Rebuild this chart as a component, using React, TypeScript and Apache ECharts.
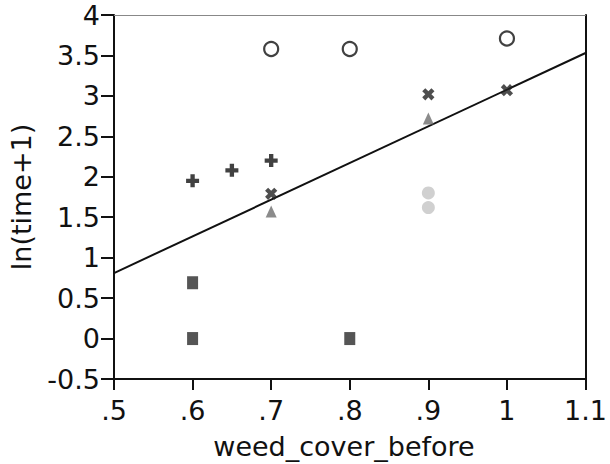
import React, { useEffect, useRef } from "react";
import * as echarts from "echarts";

const xTicks = [0.5, 0.6, 0.7, 0.8, 0.9, 1.0, 1.1];
const yTicks = [-0.5, 0, 0.5, 1, 1.5, 2, 2.5, 3, 3.5, 4];
const xName = "weed_cover_before";
const yName = "ln(time+1)";

const openCircles: number[][] = [[0.7, 3.58], [0.8, 3.58], [1.0, 3.71]];
const plusPoints: number[][] = [[0.6, 1.95], [0.65, 2.08], [0.7, 2.2]];
const crossPoints: number[][] = [[0.7, 1.79], [0.9, 3.02], [1.0, 3.07]];
const trianglePoints: number[][] = [[0.7, 1.57], [0.9, 2.72]];
const grayDots: number[][] = [[0.9, 1.8], [0.9, 1.62]];
const squarePoints: number[][] = [[0.6, 0.69], [0.6, 0], [0.8, 0]];
const fitX = [0.5, 1.1];
const fitY = [0.81, 3.53];

const PLUS = "path://M4,0 H8 V4 H12 V8 H8 V12 H4 V8 H0 V4 H4 Z";
const FONT = "DejaVu Sans";

function fmtX(v: number) {
  const s = String(Math.round(v * 10) / 10);
  return s.startsWith("0.") ? s.slice(1) : s;
}

export default function App() {
  const ref = useRef<HTMLDivElement>(null);
  useEffect(() => {
    if (!ref.current) return;
    const chart = echarts.init(ref.current, undefined, { renderer: "svg" });
    const labelStyle = { color: "#111", fontSize: 27, fontFamily: FONT };
    chart.setOption({
      animation: false,
      backgroundColor: "#fff",
      grid: { left: 112, right: 18, top: 15, bottom: 85, containLabel: false },
      xAxis: [
        {
          type: "value",
          min: xTicks[0],
          max: xTicks[xTicks.length - 1],
          interval: 0.1,
          axisLine: { show: true, onZero: false, lineStyle: { color: "#111", width: 2 } },
          axisTick: { show: true, inside: false, length: 11, lineStyle: { color: "#111", width: 2 } },
          axisLabel: { ...labelStyle, margin: 18, formatter: (v: number) => fmtX(v) },
          splitLine: { show: false },
        },
        {
          type: "value",
          position: "top",
          min: xTicks[0],
          max: xTicks[xTicks.length - 1],
          axisLine: { show: true, onZero: false, lineStyle: { color: "#888", width: 1 } },
          axisTick: { show: false },
          axisLabel: { show: false },
          splitLine: { show: false },
        },
      ],
      yAxis: [
        {
          type: "value",
          min: yTicks[0],
          max: yTicks[yTicks.length - 1],
          interval: 0.5,
          name: yName,
          nameLocation: "middle",
          nameGap: 79,
          nameTextStyle: { ...labelStyle },
          axisLine: { show: true, onZero: false, lineStyle: { color: "#111", width: 2 } },
          axisTick: { show: true, inside: false, length: 13, lineStyle: { color: "#111", width: 2 } },
          axisLabel: { ...labelStyle, margin: 14, formatter: (v: number) => String(v) },
          splitLine: { show: false },
        },
        {
          type: "value",
          position: "right",
          min: yTicks[0],
          max: yTicks[yTicks.length - 1],
          axisLine: { show: true, onZero: false, lineStyle: { color: "#111", width: 2 } },
          axisTick: { show: false },
          axisLabel: { show: false },
          splitLine: { show: false },
        },
      ],
      graphic: [
        {
          type: "text",
          x: 344,
          y: 446,
          style: {
            text: xName,
            fill: "#111",
            fontSize: 27,
            fontFamily: FONT,
            textAlign: "center",
            textVerticalAlign: "middle",
          },
        },
      ],
      series: [
        {
          type: "line",
          data: fitX.map((x, i) => [x, fitY[i]]),
          showSymbol: false,
          lineStyle: { color: "#111", width: 2 },
          z: 1,
        },
        {
          type: "scatter",
          data: openCircles,
          symbol: "circle",
          symbolSize: 14,
          itemStyle: { color: "#fff", borderColor: "#111", borderWidth: 2.2 },
          z: 3,
        },
        {
          type: "scatter",
          data: plusPoints,
          symbol: PLUS,
          symbolSize: 13,
          itemStyle: { color: "#111" },
          z: 3,
        },
        {
          type: "scatter",
          data: crossPoints,
          symbol: PLUS,
          symbolSize: 13,
          symbolRotate: 45,
          itemStyle: { color: "#222" },
          z: 3,
        },
        {
          type: "scatter",
          data: trianglePoints,
          symbol: "triangle",
          symbolSize: [11, 12],
          itemStyle: { color: "#6e6e6e" },
          z: 3,
        },
        {
          type: "scatter",
          data: grayDots,
          symbol: "circle",
          symbolSize: 13,
          itemStyle: { color: "#c4c4c4" },
          z: 3,
        },
        {
          type: "scatter",
          data: squarePoints,
          symbol: "rect",
          symbolSize: [11, 13],
          itemStyle: { color: "#2a2a2a" },
          z: 3,
        },
      ],
    });
    return () => chart.dispose();
  }, []);
  return (
    <div
      ref={ref}
      style={{ position: "absolute", left: 0, top: 0, width: 610, height: 464, overflow: "hidden" }}
    />
  );
}
